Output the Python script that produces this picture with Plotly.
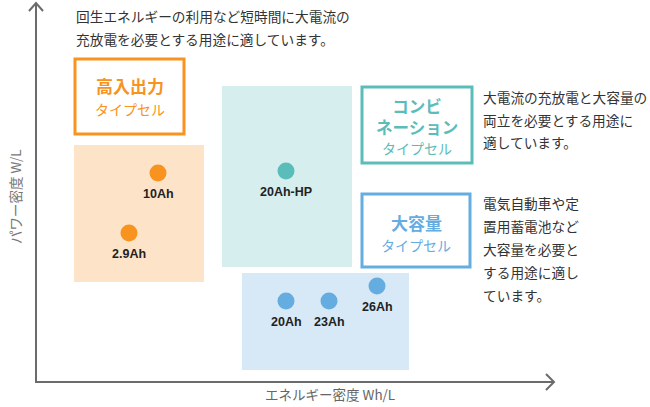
import plotly.graph_objects as go

# ---- data ----
cell_names = ["10Ah", "2.9Ah", "20Ah-HP", "20Ah", "23Ah", "26Ah"]
energy_density = [158, 129, 286, 286, 329, 377]      # arbitrary units (x)
power_density = [234, 174, 236, 106, 106, 121]       # arbitrary units (y)
cell_type = ["high", "high", "combi", "cap", "cap", "cap"]

type_colors = {"high": "#F7931E", "combi": "#5BBDB9", "cap": "#65ADE0"}
region_fill = {"high": "#FDE4C9", "combi": "#D6EEEE", "cap": "#D7E9F7"}
# region extents (x0, x1, y0, y1)
regions = {"high": (74, 204, 125, 262), "combi": (222, 352, 140, 321), "cap": (242, 409, 37, 134)}

top_text = ["回生エネルギーの利用など短時間に大電流の", "充放電を必要とする用途に適しています。"]
combi_text = ["大電流の充放電と大容量の", "両立を必要とする用途に", "適しています。"]
cap_text = ["電気自動車や定", "置用蓄電池など", "大容量を必要と", "する用途に適し", "ています。"]

x_title = "エネルギー密度 Wh/L"
y_title = "パワー密度 W/L"

JP = "Noto Sans CJK JP"
H = 407
W = 650
fig = go.Figure()

shapes = []
for k, (x0, x1, y0, y1) in regions.items():
    shapes.append(dict(type="rect", x0=x0, x1=x1, y0=y0, y1=y1, fillcolor=region_fill[k],
                       line=dict(width=0), layer="below"))

# category boxes
boxes = [
    ("high", 75, 184, H - 134, H - 59, [("高入出力", 17, True, H - 85), ("タイプセル", 14, False, H - 109)]),
    ("combi", 362, 472, H - 163, H - 87, [("コンビ<br>ネーション", 16.5, True, H - 116.5), ("タイプセル", 14, False, H - 148)]),
    ("cap", 362, 470, H - 267, H - 194, [("大容量", 17, True, H - 222), ("タイプセル", 14, False, H - 245)]),
]
annotations = []
for k, x0, x1, y0, y1, lines in boxes:
    shapes.append(dict(type="rect", x0=x0, x1=x1, y0=y0, y1=y1, fillcolor="white",
                       line=dict(color=type_colors[k], width=3)))
    for txt, sz, bold, yy in lines:
        annotations.append(dict(x=(x0 + x1) / 2, y=yy, text=f"<b>{txt}</b>" if bold else txt, showarrow=False,
                                font=dict(family=JP, size=sz, color=type_colors[k]), xanchor="center", yanchor="middle"))

# axes
ax_col = "#6B6B6B"
shapes.append(dict(type="line", x0=36, x1=36, y0=H - 382, y1=H - 3, line=dict(color=ax_col, width=2)))
shapes.append(dict(type="line", x0=35, x1=554, y0=H - 382, y1=H - 382, line=dict(color=ax_col, width=2)))
shapes.append(dict(type="path", path=f"M 29 {H-11} L 36 {H-3} L 43 {H-11}", line=dict(color=ax_col, width=2)))
shapes.append(dict(type="path", path=f"M 546 {H-374} L 554 {H-382} L 546 {H-390}", line=dict(color=ax_col, width=2)))

def para(lines, x, y_first, step):
    for i, t in enumerate(lines):
        annotations.append(dict(x=x, y=H - (y_first + i * step), text=t, showarrow=False, xanchor="left",
                                yanchor="middle", font=dict(family=JP, size=13.7, color="#333333")))

para(top_text, 74, 16, 23)
para(combi_text, 481, 97, 22.5)
para(cap_text, 481, 203, 23)

annotations.append(dict(x=330, y=H - 394, text=x_title, showarrow=False, yanchor="middle",
                        font=dict(family=JP, size=13.5, color="#666666")))
annotations.append(dict(x=15, y=H - 197, text=y_title, showarrow=False, textangle=-90, xanchor="center",
                        yanchor="middle", font=dict(family=JP, size=13.5, color="#777777")))

for i, name in enumerate(cell_names):
    fig.add_trace(go.Scatter(x=[energy_density[i]], y=[power_density[i]], mode="markers",
                             marker=dict(size=17, color=type_colors[cell_type[i]]),
                             showlegend=False, hoverinfo="skip"))
    annotations.append(dict(x=energy_density[i], y=power_density[i], yshift=-21, text=f"<b>{name}</b>",
                            showarrow=False, xanchor="center", yanchor="middle",
                            font=dict(family="Liberation Sans, Arial", size=12.5, color="#222222")))

fig.update_layout(width=W, height=H, margin=dict(l=0, r=0, t=0, b=0),
                  paper_bgcolor="white", plot_bgcolor="white",
                  xaxis=dict(range=[0, W], visible=False, fixedrange=True),
                  yaxis=dict(range=[0, H], visible=False, fixedrange=True),
                  shapes=shapes, annotations=annotations, showlegend=False)
fig.write_html("out.html", config={"displayModeBar": False},
               post_script="document.body.style.margin='0';document.body.style.overflow='hidden';")
